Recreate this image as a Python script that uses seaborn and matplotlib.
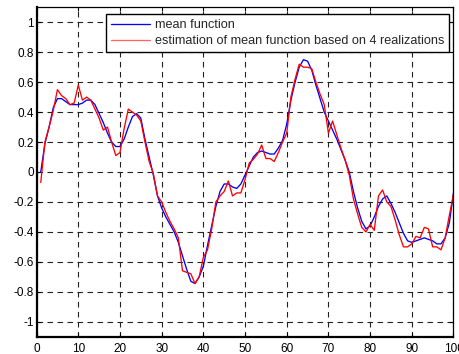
import numpy as np
import pandas as pd
import matplotlib
matplotlib.use("Agg")
import matplotlib.pyplot as plt
import seaborn as sns

x_vals = list(range(1, 101))

mean_function = [
    0.00, 0.19, 0.30, 0.43, 0.49, 0.49, 0.47, 0.45, 0.45, 0.45,
    0.46, 0.48, 0.48, 0.45, 0.39, 0.33, 0.26, 0.20, 0.17, 0.17,
    0.22, 0.30, 0.37, 0.39, 0.36, 0.22, 0.10, -0.02, -0.16, -0.24,
    -0.30, -0.35, -0.40, -0.47, -0.56, -0.65, -0.73, -0.745, -0.70, -0.63,
    -0.49, -0.36, -0.23, -0.13, -0.08, -0.08, -0.10, -0.11, -0.08, -0.02,
    0.04, 0.10, 0.13, 0.14, 0.13, 0.12, 0.12, 0.16, 0.21, 0.32,
    0.48, 0.60, 0.70, 0.75, 0.74, 0.68, 0.58, 0.49, 0.40, 0.34,
    0.28, 0.22, 0.15, 0.08, 0.00, -0.13, -0.24, -0.33, -0.38, -0.36,
    -0.30, -0.23, -0.18, -0.16, -0.21, -0.27, -0.34, -0.41, -0.46, -0.47,
    -0.46, -0.45, -0.44, -0.45, -0.46, -0.48, -0.48, -0.44, -0.34, -0.14,
]

estimation = [
    -0.07, 0.20, 0.30, 0.41, 0.55, 0.51, 0.49, 0.45, 0.46, 0.58,
    0.48, 0.50, 0.48, 0.42, 0.36, 0.28, 0.30, 0.20, 0.11, 0.13,
    0.29, 0.42, 0.40, 0.38, 0.34, 0.20, 0.07, -0.01, -0.16, -0.20,
    -0.27, -0.33, -0.38, -0.44, -0.66, -0.67, -0.68, -0.745, -0.70, -0.57,
    -0.52, -0.38, -0.20, -0.16, -0.13, -0.06, -0.16, -0.14, -0.14, -0.05,
    0.06, 0.085, 0.12, 0.18, 0.09, 0.09, 0.07, 0.13, 0.20, 0.26,
    0.50, 0.62, 0.72, 0.70, 0.70, 0.69, 0.60, 0.52, 0.45, 0.26,
    0.34, 0.25, 0.16, 0.08, -0.02, -0.18, -0.28, -0.37, -0.40, -0.35,
    -0.39, -0.16, -0.12, -0.20, -0.23, -0.32, -0.42, -0.50, -0.50, -0.48,
    -0.43, -0.44, -0.37, -0.38, -0.50, -0.50, -0.52, -0.44, -0.29, -0.15,
]

series_names = ["mean function", "estimation of mean function based on 4 realizations"]
x_ticks = list(range(0, 101, 10))
y_ticks = [-1, -0.8, -0.6, -0.4, -0.2, 0, 0.2, 0.4, 0.6, 0.8, 1]
y_tick_labels = ["-1", "-0.8", "-0.6", "-0.4", "-0.2", "0", "0.2", "0.4", "0.6", "0.8", "1"]

df = pd.DataFrame({
    "x": x_vals * 2,
    "y": mean_function + estimation,
    "series": [series_names[0]] * len(x_vals) + [series_names[1]] * len(x_vals),
})

sns.set_theme(style="ticks")
plt.rcParams["font.family"] = ["Liberation Sans", "DejaVu Sans"]

fig = plt.figure(figsize=(4.59, 3.54), dpi=100)
ax = fig.add_axes([0.0797, 0.0489, 0.9083, 0.9305])

sns.lineplot(data=df, x="x", y="y", hue="series",
             palette={series_names[0]: "#0000ff", series_names[1]: "#ff0000"},
             linewidth=0.95, ax=ax, legend=True)

ax.set_xlim(0, 100)
ax.set_ylim(-1.1, 1.1)
ax.set_xticks(x_ticks)
ax.set_xticklabels([str(t) for t in x_ticks])
ax.set_yticks(y_ticks)
ax.set_yticklabels(y_tick_labels)
ax.set_xlabel("")
ax.set_ylabel("")

ax.grid(True, color="#222222", linestyle=(0, (5, 4)), linewidth=0.8)
ax.set_axisbelow(True)
for s in ax.spines.values():
    s.set_visible(True)
    s.set_color("black")
    s.set_linewidth(0.9)
ax.spines["bottom"].set_linewidth(1.6)
ax.spines["left"].set_linewidth(1.6)

ax.tick_params(axis="both", direction="in", length=3, width=0.8,
               labelsize=8.5, colors="black", top=True, right=True)
ax.tick_params(axis="x", pad=4.5)
ax.tick_params(axis="y", pad=2)

leg = ax.legend(loc="upper right", bbox_to_anchor=(0.989, 0.979),
                borderaxespad=0, fontsize=9.05, frameon=True, fancybox=False,
                edgecolor="black", handlelength=3.05, handletextpad=0.38,
                labelspacing=0.3, borderpad=0.4, framealpha=1)
leg.get_frame().set_linewidth(1.0)
leg.get_lines()[1].set_color("#ff6666")

fig.savefig("out.png", dpi=100)
